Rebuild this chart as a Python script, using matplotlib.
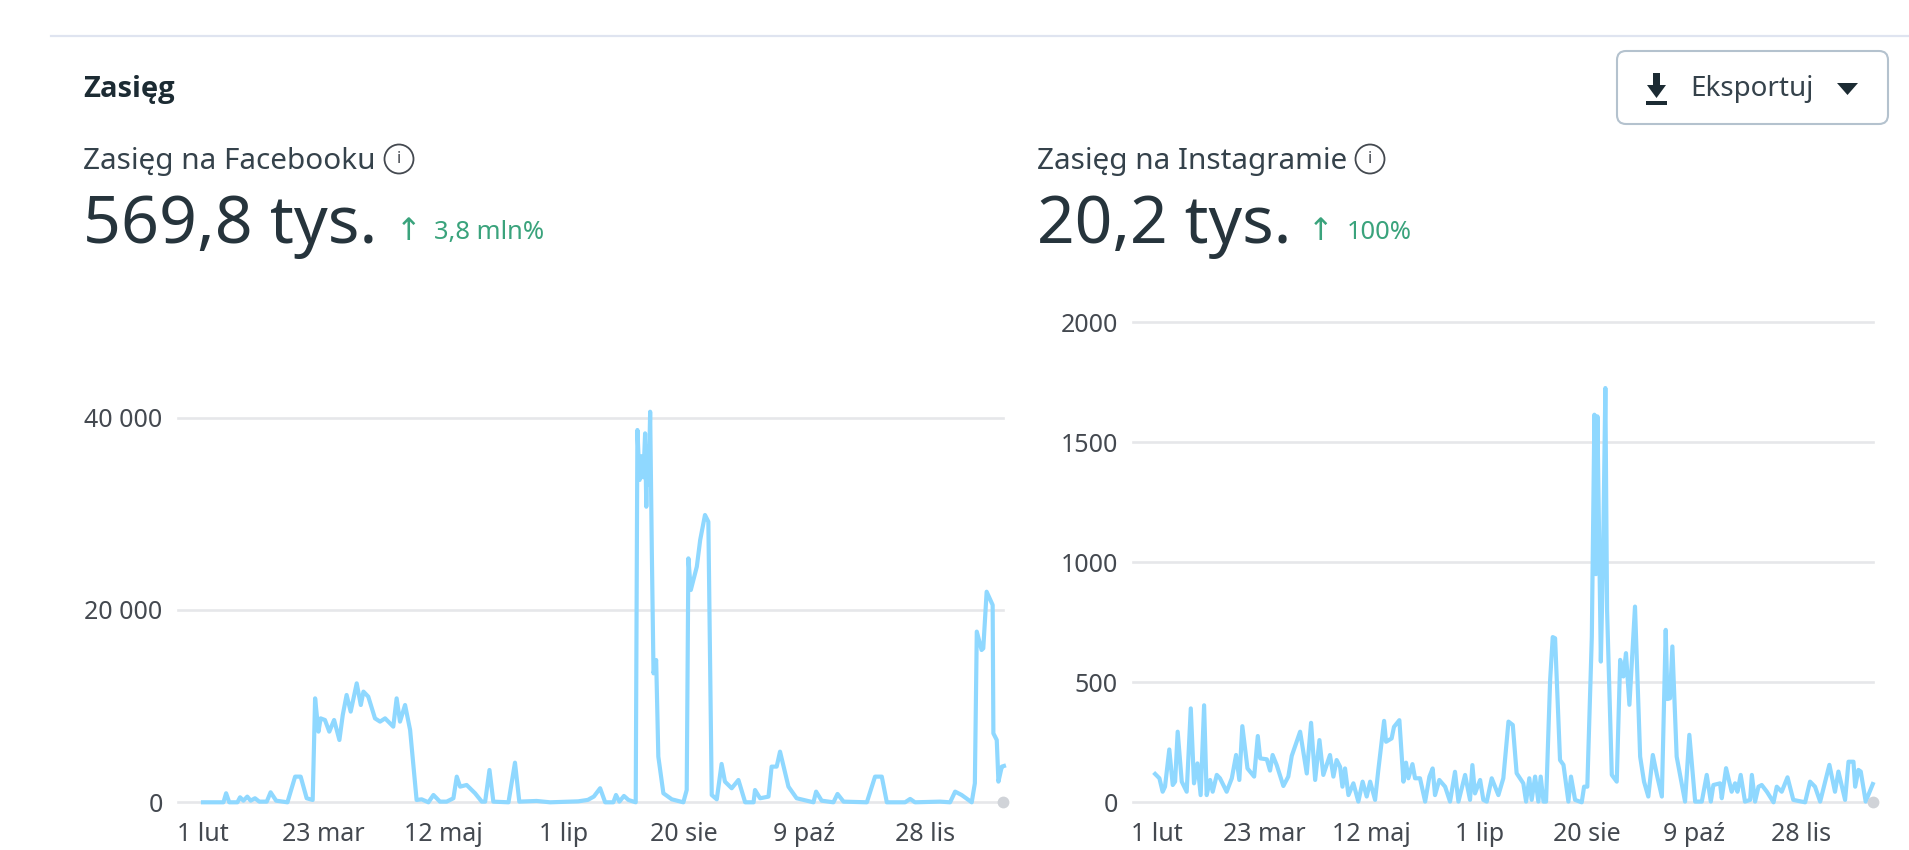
import matplotlib
matplotlib.use('Agg')
import matplotlib.pyplot as plt
from matplotlib.patches import Circle, FancyBboxPatch, Polygon, Rectangle

plt.rcParams['font.family'] = ['Noto Sans', 'DejaVu Sans']

W, H = 1909, 850
LINE = '#8fd8ff'
GRID = '#e6e7ea'
DARK = '#1c2b33'
LABEL = '#444950'
GREEN = '#3aa37c'

tick_days = [0, 50, 100, 150, 200, 250, 300]
tick_labels = ['1 lut', '23 mar', '12 maj', '1 lip', '20 sie', '9 paź', '28 lis']

fb_yticks = [0, 20000, 40000]
fb_ylabels = ['0', '20 000', '40 000']
ig_yticks = [0, 500, 1000, 1500, 2000]
ig_ylabels = ['0', '500', '1000', '1500', '2000']

# values, only the vertices of the line
fb_days = [0, 8.5, 9.6, 10.9, 14.3, 15.4, 16.8, 18.4, 19.8, 21.6, 23.4, 26.5, 28.1, 30.4, 35.1,
           38.3, 40.6, 43.1, 45.6, 46.6, 48, 48.9, 50.7, 52.5, 54.5, 56.7, 58.1, 59.7, 61.4, 63.9,
           65.6, 66.7, 68.7, 71.5, 73.6, 75.7, 79.1, 80.5, 81.9, 84, 86.1, 88.8, 90.9, 93.7, 95.8,
           98.5, 101.3, 104.1, 105.5, 106.9, 109.6, 113.1, 115.9, 117.3, 119.1, 120.7, 127, 129.7,
           131.5, 138.7, 144.3, 156, 160, 162.5, 165.1, 167.2, 170.6, 171.7, 173.1, 175, 176.9,
           179.9, 180.6, 181.5, 182.4, 183.1, 183.8, 184.3, 184.7, 185.3, 185.9, 186.6, 187.3, 188.4, 189.3, 191.4, 194.9, 199.7,
           201.1, 201.8, 202.8, 205.3, 206.7, 208.7, 210.1, 211.5, 213.6, 215.6, 217, 219.8, 222.6,
           225.4, 228.9, 229.5, 231.6, 235.1, 236.4, 238.5, 239.9, 243.4, 246.8, 253.8, 254.9,
           257.2, 262.1, 263.8, 266.3, 276, 279.4, 282.2, 284.3, 291.9, 294, 296, 306.4, 310.6,
           312.7, 315.4, 319.6, 320.9, 321.7, 323.7, 324.4, 325.8, 328.3, 328.6, 330, 330.7, 332.1, 333]
fb_values = [0, 0, 940, 0, 0, 520, 170, 590, 170, 420, 70, 70, 1040, 170, 0,
             2670, 2670, 420, 240, 10810, 7350, 8730, 8560, 7350, 8560, 6480, 9080, 11160, 9430, 12370,
             10120, 11510, 10990, 8730, 8390, 8730, 7870, 10810, 8390, 10120, 7520, 240, 310, 0, 760,
             70, 70, 420, 2670, 1630, 1800, 940, 70, 70, 3360, 70, 0, 4120,
             70, 140, 0, 100, 250, 600, 1460, 0, 0, 760, 70, 660, 240,
             0, 38720, 33520, 36000, 33800, 38370, 30740, 37000, 33000, 40620, 26000, 13410, 14800, 4750, 940, 310, 0,
             1280, 25370, 22080, 24500, 27280, 29880, 29180, 760, 310, 3990, 2150, 1460, 2320,
             0, 0, 1280, 420, 590, 3710, 3710, 5270, 1630, 420, 0, 1110,
             170, 0, 870, 70, 0, 2670, 2670, 0, 0, 350, 0, 70, 0,
             1110, 760, 0, 1980, 17750, 15840, 16010, 21900, 20520, 7170, 6480, 2150, 3710, 3780]

ig_days = [-0.9, 1.1, 2.6, 3.7, 5.7, 7.3, 8.4, 9.6, 11.5, 13.8, 15.7, 17.2, 18.8, 20.3, 21.9, 23.1,
           24.7, 25.9, 27.8, 29.3, 32.4, 34.8, 36.8, 38.3, 39.7, 42.1, 45.2, 46.9, 48, 51.1, 52.6,
           53.8, 55.7, 58.8, 61.1, 62.7, 66.6, 69.7, 71.7, 73.6, 75.6, 77.4, 80.5, 82.1, 83.6, 85.2,
           86.3, 87.5, 89.1, 91.4, 93.7, 95.7, 97.6, 99.2, 101.5, 103, 105.7, 106.6, 109.2, 110.3,
           112.8, 114.7, 115.9, 117, 118.9, 120.1, 122.4, 124.8, 126.8, 128.3, 129.4, 131.4, 134.1,
           136.4, 138.7, 140.3, 143.4, 145.7, 146.8, 148, 150.4, 151.9, 153.5, 155.8, 158.9, 161.2,
           163.6, 165.6, 167.4, 170.5, 171.8, 173.3, 174.4, 176, 177.5, 178.6, 179.9, 181.1, 183,
           184.2, 185.3, 187.6, 189.2, 191.5, 192.7, 194.6, 197.7, 198.8, 200.3, 202.4, 203.6, 204.3, 205,
           206.6, 207.6, 208.7, 209.5, 211.7, 214, 215.6, 217.1, 218.3, 219.9, 222.5, 224.9, 226.7, 228.7, 230.8,
           232.7, 235, 236.8, 237.6, 238.8, 239.9, 241.9, 245.8, 247.8, 250.5, 253.6, 255.9, 257.8, 259,
           262.1, 262.9, 264.9, 267.5, 269.1, 270.2, 271.7, 273.7, 276.1, 276.9, 278.4, 280, 281.5,
           283.9, 287, 288.5, 290.8, 293.5, 296.2, 301.7, 304, 306.3, 308.7, 313, 315.6, 317.2,
           320.3, 321.9, 324.2, 325, 326.5, 327.6, 329.9, 333.2]
ig_values = [118, 100, 44, 65, 220, 72, 86, 294, 86, 44, 391, 79, 162, 30, 404, 30,
             93, 44, 114, 100, 44, 100, 197, 93, 317, 141, 107, 276, 183, 179, 132,
             197, 155, 68, 107, 193, 294, 120, 331, 93, 259, 114, 197, 107, 176, 148,
             65, 141, 30, 79, 3, 86, 24, 86, 10, 134, 339, 252, 266, 314,
             342, 86, 165, 100, 159, 100, 100, 3, 107, 141, 30, 93, 65,
             3, 127, 3, 114, 10, 155, 37, 93, 10, 3, 100, 30, 100,
             336, 322, 121, 79, 3, 100, 10, 107, 3, 107, 3, 3, 510,
             688, 683, 176, 156, 3, 107, 10, 0, 65, 65, 690, 1614, 950, 1607,
             586, 1000, 1725, 800, 114, 86, 593, 524, 621, 406, 815, 190, 86, 24, 197,
             114, 24, 718, 430, 433, 649, 190, 3, 281, 3, 3, 114, 3, 72,
             79, 17, 142, 44, 79, 44, 114, 3, 10, 114, 3, 65, 72,
             44, 0, 65, 44, 104, 10, 0, 86, 65, 3, 156, 44, 128,
             10, 169, 169, 65, 135, 128, 3, 76]


def make_chart(fig, box, days, values, yticks, ylabels, xlim):
    ''' box is left, top, right, bottom of the plot in pixels '''
    left, top, right, bottom = box
    ax = fig.add_axes([left / W, 1 - bottom / H, (right - left) / W, (bottom - top) / H])
    ax.patch.set_alpha(0)
    ax.plot(days, values, color=LINE, lw=3, clip_on=False, solid_joinstyle='round', zorder=3)
    ax.plot([xlim[1]], [0], 'o', color='#d0d3d8', ms=8.5, mec='none', clip_on=False, zorder=4)
    ax.set_xlim(*xlim)
    ax.set_ylim(yticks[0], yticks[-1])
    ax.set_xticks(tick_days)
    ax.set_xticklabels(tick_labels)
    ax.set_yticks(yticks)
    ax.set_yticklabels(ylabels)
    ax.tick_params(axis='x', length=0, pad=14, labelsize=18, labelcolor=LABEL)
    ax.tick_params(axis='y', length=0, pad=11, labelsize=18, labelcolor=LABEL)
    ax.grid(axis='y', color=GRID, lw=1.9, clip_on=False)
    ax.set_axisbelow(True)
    for s in ax.spines.values():
        s.set_visible(False)
    return ax


def info_icon(ax, x, y):
    ax.add_patch(Circle((x, y), 14.5, fill=False, ec=LABEL, lw=1.3))
    ax.text(x, y, 'i', fontsize=12, color=LABEL, ha='center', va='center')


fig = plt.figure(figsize=(W / 100, H / 100), dpi=100, facecolor='white')

make_chart(fig, (178, 417.7, 1003, 802.3), fb_days, fb_values, fb_yticks, fb_ylabels, (-10.4, 332.6))
make_chart(fig, (1133, 322, 1873, 802.3), ig_days, ig_values, ig_yticks, ig_ylabels, (-11.2, 333.3))

# header of the page, drawn in pixel coordinates
top = fig.add_axes([0, 0, 1, 1])
top.set_xlim(0, W)
top.set_ylim(H, 0)
top.axis('off')
top.patch.set_alpha(0)

top.plot([51, W], [36, 36], color='#dfe4f0', lw=1.6)
top.text(83, 89, 'Zasięg', fontsize=21, fontweight='bold', color=DARK, va='center',
         family=['Open Sans', 'DejaVu Sans'])

top.text(83, 161, 'Zasięg na Facebooku', fontsize=21.4, color='#35424b', va='center')
info_icon(top, 399, 159)
top.text(83, 226, '569,8 tys.', fontsize=47.8, color='#26343c', va='center')
top.text(409, 231, '↑', fontsize=22, color=GREEN, ha='center', va='center', family='DejaVu Sans')
top.text(434, 232, '3,8 mln%', fontsize=18.4, color=GREEN, va='center')

top.text(1037, 161, 'Zasięg na Instagramie', fontsize=21.4, color='#35424b', va='center')
info_icon(top, 1370, 159)
top.text(1037, 226, '20,2 tys.', fontsize=47.4, color='#26343c', va='center')
top.text(1321, 231, '↑', fontsize=22, color=GREEN, ha='center', va='center', family='DejaVu Sans')
top.text(1347, 232, '100%', fontsize=18.4, color=GREEN, va='center')

# export button
top.add_patch(FancyBboxPatch((1623, 57), 259, 61, boxstyle='round,pad=6,rounding_size=9',
                             fc='white', ec='#b4c2ce', lw=1.5))
top.add_patch(Rectangle((1653, 73), 7, 14, fc=DARK, ec='none'))
top.add_patch(Polygon([[1647, 85], [1666, 85], [1656.5, 98]], fc=DARK, ec='none'))
top.add_patch(Rectangle((1646, 101), 21, 4, fc=DARK, ec='none'))
top.text(1690, 89, 'Eksportuj', fontsize=20, color='#35424b', va='center')
top.add_patch(Polygon([[1837, 83], [1858, 83], [1847.5, 95]], fc=DARK, ec='none'))

plt.savefig('out.png', dpi=100)
